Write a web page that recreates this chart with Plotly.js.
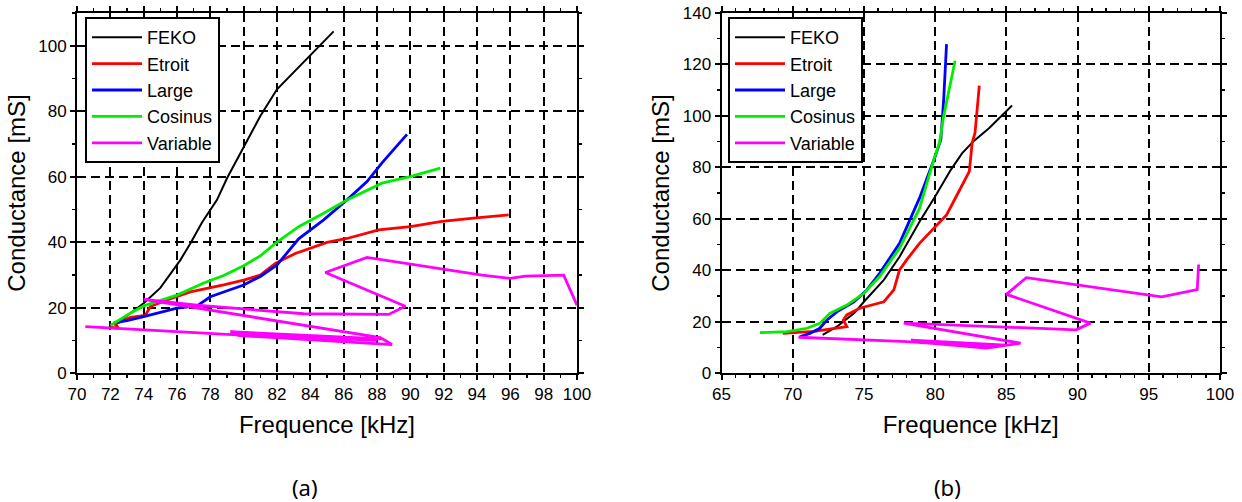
<!DOCTYPE html>
<html><head><meta charset="utf-8">
<script src="https://cdn.plot.ly/plotly-3.0.1.min.js"></script>
<style>html,body{margin:0;padding:0;background:#fff}#chart{width:1242px;height:502px}</style>
</head><body><div id="chart"></div>
<script>
// ---- Panel (a) ----
const a_feko_x = [72.2,73,74,75,76.2,76.8,77.5,78.4,79,80,81,82,83,84,85.4];
const a_feko_y = [14.7,17.5,21.3,26,34.5,39.6,46,52.9,59.5,69,78.5,86.7,92,97,104.4];
const a_etroit_x = [72,72.5,72.3,73.2,74.1,74.4,75.4,76.8,78.8,80,81,81.9,83.1,85,86.2,88.1,90,91.9,93.8,95.9];
const a_etroit_y = [14,13.6,15,17,17.6,20.3,22.3,24.8,26.9,28.4,29.9,33.5,36.5,39.9,41.1,43.7,44.7,46.3,47.3,48.3];
const a_large_x = [72.2,73,74,76,77.2,78,79.1,80,81,82,83.3,84.8,86.2,87.4,88.3,89.8];
const a_large_y = [15.3,16,17.2,19.8,20.5,23.3,25.3,26.9,29.5,33,41,46.8,52.9,58.5,64.2,72.9];
const a_cosinus_x = [72,73.1,74,76,77.6,78.8,80,81,81.9,83.3,84.8,86.2,88.3,90,91.8];
const a_cosinus_y = [14.5,18,20.5,23.8,27.5,29.8,32.8,35.8,39.6,44.7,48.8,52.9,58,60,62.6];
const a_variable_x = [70.5,79.0,88.0,79.2,88.3,79.6,88.9,88.2,74.0,77.2,83.6,86.2,88.7,89.7,84.9,87.4,94.3,96.0,96.9,99.2,100.0];
const a_variable_y = [14.2,11.8,10.0,12.6,10.4,11.5,8.7,10.8,22.5,20.7,18.1,18.1,17.9,20.4,30.7,35.3,29.9,28.9,29.6,29.9,20.7];

// ---- Panel (b) ----
const b_feko_x = [72.1,73.1,74.3,75,76.4,77.5,78.9,80,81.1,81.9,82.7,83.8,85.4];
const b_feko_y = [14.8,18,23.2,27.7,36.2,45.2,58.8,68.6,79,85.5,90.1,95.3,104];
const b_etroit_x = [69.3,71.5,73.8,73.55,73.8,74.7,76.4,77.1,77.5,78,78.9,80,80.8,81.6,82.4,82.6,82.8,83.1];
const b_etroit_y = [15.4,16.2,18,20.6,22.6,25.2,27.7,32.3,40.1,44,50.4,56.9,61.5,69.9,78.4,89.5,93.4,111.8];
const b_large_x = [70.5,71.2,71.9,72.4,73.1,74.3,75.2,76.1,77.5,78.9,80,80.4,80.6,80.8];
const b_large_y = [14.1,15.4,17.4,20.6,23.8,27.7,32.3,38.8,50.4,68,84.2,90.8,106.4,127.9];
const b_cosinus_x = [67.7,69.6,71.0,71.9,72.6,73.8,75.0,76.1,77.5,78.9,79.9,80.3,80.6,81.4];
const b_cosinus_y = [15.7,16.1,17.4,19.3,23.2,26.4,31,37.5,48.5,64,82.9,89.5,99.9,121.4];
const b_variable_x = [70.4,78.0,84.0,78.3,85.0,78.8,83.6,86.0,77.8,89.9,90.9,85.0,86.4,95.9,98.4,98.5];
const b_variable_y = [13.9,12.2,10.0,12.8,10.8,12.0,9.7,11.6,19.4,16.8,19.4,30.6,37.1,29.6,32.4,42.2];

const names = ['FEKO','Etroit','Large','Cosinus','Variable'];
const colors = ['#000000','#ff0000','#0000ff','#00ee00','#ff00ff'];
const widths = [2,2.8,2.8,2.8,2.8];

const A = [[a_feko_x,a_feko_y],[a_etroit_x,a_etroit_y],[a_large_x,a_large_y],[a_cosinus_x,a_cosinus_y],[a_variable_x,a_variable_y]];
const B = [[b_feko_x,b_feko_y],[b_etroit_x,b_etroit_y],[b_large_x,b_large_y],[b_cosinus_x,b_cosinus_y],[b_variable_x,b_variable_y]];

const traces = [];
A.forEach((d,i)=>traces.push({x:d[0],y:d[1],name:names[i],mode:'lines',type:'scatter',
  line:{color:colors[i],width:widths[i]},xaxis:'x',yaxis:'y',legend:'legend'}));
B.forEach((d,i)=>traces.push({x:d[0],y:d[1],name:names[i],mode:'lines',type:'scatter',
  line:{color:colors[i],width:widths[i]},xaxis:'x2',yaxis:'y2',legend:'legend2'}));

const FONT = 'Liberation Sans';
const GRID = {showgrid:true, gridcolor:'#000', griddash:'9px,5px', gridwidth:2, zeroline:false};
function xax(dom, range, dtick, minorD, anchor){
  return Object.assign({domain:dom, range:range, dtick:dtick, tick0:range[0], anchor:anchor,
    showline:true, linecolor:'#000', linewidth:2, mirror:'ticks',
    ticks:'outside', ticklen:5, tickwidth:2, tickcolor:'#000',
    minor:{dtick:minorD, ticks:'outside', ticklen:3, tickwidth:1.5, tickcolor:'#000', showgrid:false},
    tickfont:{family:FONT,size:17,color:'#000'},
    title:{text:'Frequence [kHz]', font:{family:FONT,size:24,color:'#000'}, standoff:13},
    automargin:false}, GRID);
}
function yax(dom, range, anchor){
  return Object.assign({domain:dom, range:range, dtick:20, tick0:0, anchor:anchor,
    showline:true, linecolor:'#000', linewidth:2, mirror:'ticks',
    ticks:'outside', ticklen:5, tickwidth:2, tickcolor:'#000',
    minor:{dtick:10, ticks:'outside', ticklen:3, tickwidth:1.5, tickcolor:'#000', showgrid:false},
    tickfont:{family:FONT,size:17,color:'#000'},
    title:{text:'Conductance [mS]', font:{family:FONT,size:24,color:'#000'}, standoff:6},
    automargin:false}, GRID);
}
const W=1242,H=502;
const ydom=[1-373/H, 1-13/H];
const LEG = {xanchor:'left',yanchor:'top',bgcolor:'#fff',bordercolor:'#000',borderwidth:2,
    font:{family:FONT,size:18,color:'#000'},tracegroupgap:0,itemwidth:50};
const layout = {
  width:W, height:H, margin:{l:0,r:0,t:0,b:0},
  paper_bgcolor:'#fff', plot_bgcolor:'#fff', showlegend:true,
  xaxis: xax([77/W,577/W],[70,100],2,1,'y'),
  yaxis: yax(ydom,[0,110],'x'),
  xaxis2: xax([721.5/W,1220/W],[65,100],5,1,'y2'),
  yaxis2: yax(ydom,[0,140],'x2'),
  legend: Object.assign({x:85/W,y:1-17/H}, LEG),
  legend2: Object.assign({x:728/W,y:1-17/H}, LEG),
  annotations:[
    {text:'(a)',x:305/W,y:1-487/H,xref:'paper',yref:'paper',xanchor:'center',yanchor:'middle',showarrow:false,font:{family:'Noto Sans',size:22,color:'#000'}},
    {text:'(b)',x:948/W,y:1-487/H,xref:'paper',yref:'paper',xanchor:'center',yanchor:'middle',showarrow:false,font:{family:'Noto Sans',size:22,color:'#000'}}
  ]
};
Plotly.newPlot('chart', traces, layout, {staticPlot:true});
</script></body></html>
